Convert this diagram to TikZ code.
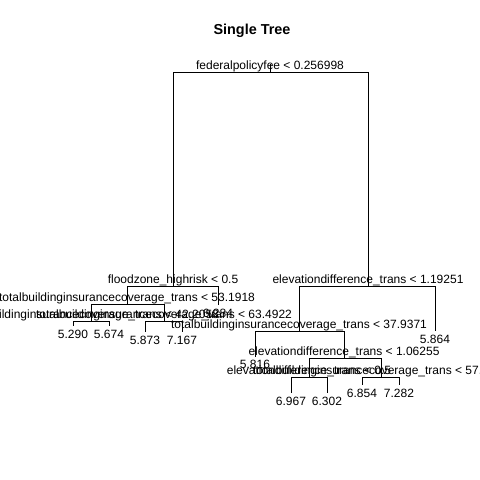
\documentclass[tikz,border=0pt]{standalone}
\usepackage{fontspec}
\setmainfont{Liberation Sans}
\usetikzlibrary{positioning}

\begin{document}
\begin{tikzpicture}[
    x=1pt, y=-1pt,
    split/.style={inner sep=0pt, anchor=base, font=\fontsize{12}{14}\selectfont},
    leaf/.style={inner sep=0pt, anchor=base, font=\fontsize{12}{14}\selectfont},
    edge/.style={draw, line width=0.8pt}
]
\useasboundingbox[fill=white] (0,0) rectangle (480,480);
\clip (0,0) rectangle (480,480);
\node[font=\bfseries\fontsize{14.4}{16}\selectfont] (title) at (252,31) {Single Tree};
% split points
\coordinate (top) at (270,64);
\coordinate (root) at (270,72);
\coordinate (flood) at (173,286);
\coordinate (elevA) at (368,286);
\coordinate (tbA) at (127,304);
\coordinate (tbB) at (91,321);
\coordinate (tbC) at (164,321);
\coordinate (tbD) at (299,331);
\coordinate (elevB) at (344,358);
\coordinate (elevC) at (309,377);
\coordinate (tbE) at (381,377);
% leaves
\coordinate (lfA) at (73,326);
\coordinate (lfB) at (109,326);
\coordinate (lfC) at (145,332);
\coordinate (lfD) at (182,332);
\coordinate (lfE) at (218,305);
\coordinate (lfF) at (255,357);
\coordinate (lfG) at (291,393);
\coordinate (lfH) at (327,393);
\coordinate (lfI) at (362,385);
\coordinate (lfJ) at (399,385);
\coordinate (lfK) at (435,331);
% branches
\draw[edge] (top) -- (root);
\draw[edge] (root) -| (flood);
\draw[edge] (root) -| (elevA);
\draw[edge] (flood) -| (tbA);
\draw[edge] (flood) -| (lfE);
\draw[edge] (tbA) -| (tbB);
\draw[edge] (tbA) -| (tbC);
\draw[edge] (tbB) -| (lfA);
\draw[edge] (tbB) -| (lfB);
\draw[edge] (tbC) -| (lfC);
\draw[edge] (tbC) -| (lfD);
\draw[edge] (elevA) -| (tbD);
\draw[edge] (elevA) -| (lfK);
\draw[edge] (tbD) -| (lfF);
\draw[edge] (tbD) -| (elevB);
\draw[edge] (elevB) -| (elevC);
\draw[edge] (elevB) -| (tbE);
\draw[edge] (elevC) -| (lfG);
\draw[edge] (elevC) -| (lfH);
\draw[edge] (tbE) -| (lfI);
\draw[edge] (tbE) -| (lfJ);
% split labels
\node[above=2.5pt of root, split] (rootlab) {federalpolicyfee < 0.256998};
\node[above=2.5pt of flood, split] (floodlab) {floodzone\_highrisk < 0.5};
\node[above=2.5pt of elevA, split] (elevAlab) {elevationdifference\_trans < 1.19251};
\node[above=2.5pt of tbA, split] (tbAlab) {totalbuildinginsurancecoverage\_trans < 53.1918};
\node[above=2.5pt of tbB, split] (tbBlab) {totalbuildinginsurancecoverage\_trans < 42.2058};
\node[above=2.5pt of tbC, split] (tbClab) {totalbuildinginsurancecoverage\_trans < 63.4922};
\node[above=2.5pt of tbD, split] (tbDlab) {totalbuildinginsurancecoverage\_trans < 37.9371};
\node[above=2.5pt of elevB, split] (elevBlab) {elevationdifference\_trans < 1.06255};
\node[above=2.5pt of elevC, split] (elevClab) {elevationdifference\_trans < 0.5};
\node[above=2.5pt of tbE, split] (tbElab) {totalbuildinginsurancecoverage\_trans < 57.5108};
% leaf labels
\node[below=12pt of lfA, leaf] (lfAlab) {5.290};
\node[below=12pt of lfB, leaf] (lfBlab) {5.674};
\node[below=12pt of lfC, leaf] (lfClab) {5.873};
\node[below=12pt of lfD, leaf] (lfDlab) {7.167};
\node[below=12pt of lfE, leaf] (lfElab) {6.284};
\node[below=11.5pt of lfF, leaf] (lfFlab) {5.816};
\node[below=12pt of lfG, leaf] (lfGlab) {6.967};
\node[below=12pt of lfH, leaf] (lfHlab) {6.302};
\node[below=12pt of lfI, leaf] (lfIlab) {6.854};
\node[below=12pt of lfJ, leaf] (lfJlab) {7.282};
\node[below=12pt of lfK, leaf] (lfKlab) {5.864};
\end{tikzpicture}
\end{document}
